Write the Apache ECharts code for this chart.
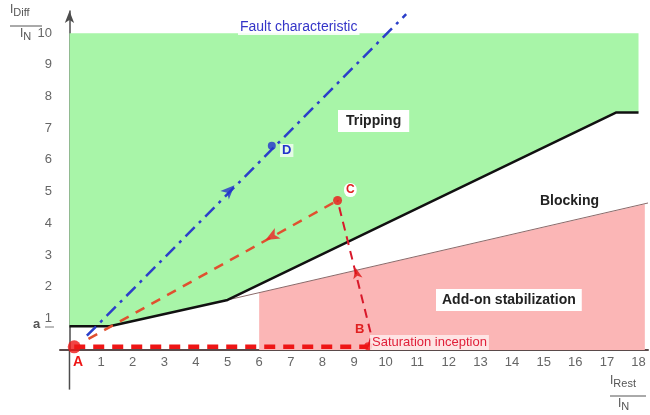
<!DOCTYPE html>
<html>
<head>
<meta charset="utf-8">
<script src="https://cdn.jsdelivr.net/npm/echarts@6/dist/echarts.min.js"></script>
<style>
html,body{margin:0;padding:0;background:#fff;}
#c{width:650px;height:415px;}
</style>
</head>
<body>
<div id="c"></div>
<script>
// ---- data ----
const xTicks = [1,2,3,4,5,6,7,8,9,10,11,12,13,14,15,16,17,18];
const yTicks = [1,2,3,4,5,6,7,8,9,10];
// tripping characteristic (black)
const charX = [0, 1.27, 5, 17.3, 18];
const charY = [0.75, 0.75, 1.58, 7.5, 7.5];
const tripTop = 10;
// add-on stabilization boundary line
const stabX = [5, 18.3];
const stabY = [1.58, 4.64];
// add-on stabilization area
const pinkX = [6, 6, 18.2, 18.2];
const pinkY = [0, 1.81, 4.6, 0];
// fault characteristic (blue)
const faultX = [0.55, 10.65];
const faultY = [0.45, 10.6];
// trajectory A -> B
const abX = [0.15, 9.45];
const abY = [0.1, 0.1];
// trajectory B -> C
const bcX = [9.45, 9.55, 8.48];
const bcY = [0.1, 0.45, 4.72];
// line origin -> C
const ocX = [0.6, 8.48];
const ocY = [0.35, 4.72];
// y axis extension below the origin
const yExtX = [0, 0];
const yExtY = [0, -1.25];
// points
const ptA = [0.15, 0.1];
const ptB = [9.45, 0.12];
const ptC = [8.48, 4.72];
const ptD = [6.4, 6.45];
// arrows [x, y, rotate]
const blueArrow = [5.22, 5.2, -45];
const redArrowBC = [9.05, 2.6, 12];
const redArrowOC = [6.2, 3.47, 119];

const zip = (xs, ys) => xs.map((x, i) => [x, ys[i]]);

const greenPts = [[0, tripTop], [charX[charX.length-1], tripTop]]
  .concat(zip(charX, charY).reverse());
const pinkPts = zip(pinkX, pinkY);

function polySeries(pts, color, z) {
  return {
    type: 'custom', z: z, silent: true, clip: false,
    data: [0],
    renderItem: (params, api) => ({
      type: 'polygon',
      shape: { points: pts.map(p => api.coord(p)) },
      style: { fill: color }
    })
  };
}
function lineSeries(xs, ys, style, z) {
  return {
    type: 'line', z: z, silent: true, showSymbol: false, clip: false,
    data: zip(xs, ys), lineStyle: style, animation: false
  };
}
function ptSeries(p, color, size, symbol, rot) {
  return {
    type: 'scatter', z: 10, silent: true, clip: false,
    data: [[p[0], p[1]]], symbol: symbol || 'circle', symbolSize: size,
    symbolRotate: rot || 0,
    itemStyle: { color: color }
  };
}

const chart = echarts.init(document.getElementById('c'), null, { renderer: 'canvas' });
const lblFont = { color: '#666', fontSize: 13, fontFamily: 'Liberation Sans, Arial, sans-serif' };

chart.setOption({
  animation: false,
  grid: { left: 60, top: 11, width: 588, height: 339 },
  xAxis: {
    type: 'value', min: -0.3, max: 18.3,
    axisLine: { show: true, onZero: true, lineStyle: { color: '#5a4a4a', width: 2 } },
    axisTick: { show: false },
    splitLine: { show: false },
    axisLabel: Object.assign({ customValues: xTicks, margin: 6 }, lblFont)
  },
  yAxis: {
    type: 'value', min: 0, max: 10.7,
    axisLine: { show: true, onZero: true, symbol: ['none', 'arrow'], symbolSize: [7, 12],
      lineStyle: { color: '#4d4d4d', width: 1.5 } },
    axisTick: { show: false },
    splitLine: { show: false },
    axisLabel: Object.assign({ customValues: yTicks, margin: 8 }, lblFont)
  },
  series: [
    polySeries(greenPts, '#a8f5a8', 1),
    polySeries(pinkPts, '#fbb6b6', 1),
    lineSeries(yExtX, yExtY, { color: '#4d4d4d', width: 1.5 }, 3),
    lineSeries(stabX, stabY, { color: '#8a6a6a', width: 1 }, 3),
    lineSeries(charX, charY, { color: '#111', width: 2.5 }, 4),
    lineSeries(faultX, faultY, { color: '#2b3fc9', width: 2.5, type: [13, 6, 3, 6] }, 5),
    lineSeries(abX, abY, { color: '#ee1515', width: 4.5, type: [11, 8] }, 5),
    lineSeries(bcX, bcY, { color: '#d8182a', width: 2, type: [9, 6] }, 5),
    lineSeries(ocX, ocY, { color: '#e0502f', width: 2.5, type: [10, 8] }, 5),
    ptSeries(ptA, '#ee1515', 13),
    ptSeries(ptB, '#ee1515', 8),
    ptSeries(ptC, '#ee1515', 9),
    ptSeries(ptD, '#2233cc', 8),
    ptSeries([blueArrow[0], blueArrow[1]], '#2233cc', [9, 14], 'arrow', blueArrow[2]),
    ptSeries([redArrowBC[0], redArrowBC[1]], '#dd1111', [7, 11], 'arrow', redArrowBC[2]),
    ptSeries([redArrowOC[0], redArrowOC[1]], '#ee2222', [9, 14], 'arrow', redArrowOC[2])
  ],
  graphic: [
    // y axis title
    { type: 'text', left: 10, top: 4, z: 20, style: {
      rich: { i: { fontSize: 12, fill: '#555', fontFamily: 'Liberation Sans' },
              s: { fontSize: 11, fill: '#555', fontFamily: 'Liberation Sans', padding: [6, 0, 0, 0] } },
      text: '{i|I}{s|Diff}' } },
    { type: 'line', z: 20, shape: { x1: 10, y1: 26, x2: 42, y2: 26 }, style: { stroke: '#555', lineWidth: 1 } },
    { type: 'text', left: 20, top: 28, z: 20, style: {
      rich: { i: { fontSize: 12, fill: '#555', fontFamily: 'Liberation Sans' },
              s: { fontSize: 11, fill: '#555', fontFamily: 'Liberation Sans', padding: [6, 0, 0, 0] } },
      text: '{i|I}{s|N}' } },
    // x axis title
    { type: 'text', left: 610, top: 375, z: 20, style: {
      rich: { i: { fontSize: 12, fill: '#555', fontFamily: 'Liberation Sans' },
              s: { fontSize: 11, fill: '#555', fontFamily: 'Liberation Sans', padding: [6, 0, 0, 0] } },
      text: '{i|I}{s|Rest}' } },
    { type: 'line', z: 20, shape: { x1: 610, y1: 396, x2: 646, y2: 396 }, style: { stroke: '#555', lineWidth: 1 } },
    { type: 'text', left: 618, top: 398, z: 20, style: {
      rich: { i: { fontSize: 12, fill: '#555', fontFamily: 'Liberation Sans' },
              s: { fontSize: 11, fill: '#555', fontFamily: 'Liberation Sans', padding: [6, 0, 0, 0] } },
      text: '{i|I}{s|N}' } },
    // a label
    { type: 'text', left: 33, top: 318, z: 20, style: { text: 'a', fontSize: 13, fill: '#555', fontFamily: 'Liberation Sans', fontWeight: 'bold' } },
    { type: 'line', z: 20, shape: { x1: 45, y1: 327, x2: 54, y2: 327 }, style: { stroke: '#777', lineWidth: 1 } },
    // region labels
    { type: 'text', left: 238, top: 19, z: 20, style: { text: 'Fault characteristic', fontSize: 14, fill: '#3535c8',
      fontFamily: 'Liberation Sans', backgroundColor: 'rgba(255,255,255,0.85)', padding: [1, 2] } },
    { type: 'text', left: 338, top: 110, z: 20, style: { text: 'Tripping', fontSize: 14, fontWeight: 'bold', fill: '#222',
      fontFamily: 'Liberation Sans', backgroundColor: '#fff', padding: [4, 8] } },
    { type: 'text', left: 540, top: 194, z: 20, style: { text: 'Blocking', fontSize: 14, fontWeight: 'bold', fill: '#222',
      fontFamily: 'Liberation Sans' } },
    { type: 'text', left: 436, top: 289, z: 20, style: { text: 'Add-on stabilization', fontSize: 14, fontWeight: 'bold', fill: '#222',
      fontFamily: 'Liberation Sans', backgroundColor: '#fff', padding: [4, 6] } },
    { type: 'text', left: 370, top: 335, z: 20, style: { text: 'Saturation inception', fontSize: 13, fill: '#e0203a',
      fontFamily: 'Liberation Sans', backgroundColor: 'rgba(255,240,240,0.8)', padding: [1, 2] } },
    // point labels
    { type: 'text', left: 280, top: 144, z: 20, style: { text: 'D', fontSize: 13, fontWeight: 'bold', fill: '#2233cc', fontFamily: 'Liberation Sans',
      backgroundColor: 'rgba(255,255,255,0.7)', padding: [0, 2] } },
    { type: 'text', left: 344, top: 183, z: 20, style: { text: 'C', fontSize: 12, fontWeight: 'bold', fill: '#e02020', fontFamily: 'Liberation Sans',
      backgroundColor: '#fff', borderRadius: 8, padding: [1, 2] } },
    { type: 'text', left: 355, top: 323, z: 20, style: { text: 'B', fontSize: 13, fontWeight: 'bold', fill: '#e02020', fontFamily: 'Liberation Sans' } },
    { type: 'text', left: 73, top: 355, z: 20, style: { text: 'A', fontSize: 14, fontWeight: 'bold', fill: '#ee1515', fontFamily: 'Liberation Sans' } }
  ]
});
</script>
</body>
</html>
